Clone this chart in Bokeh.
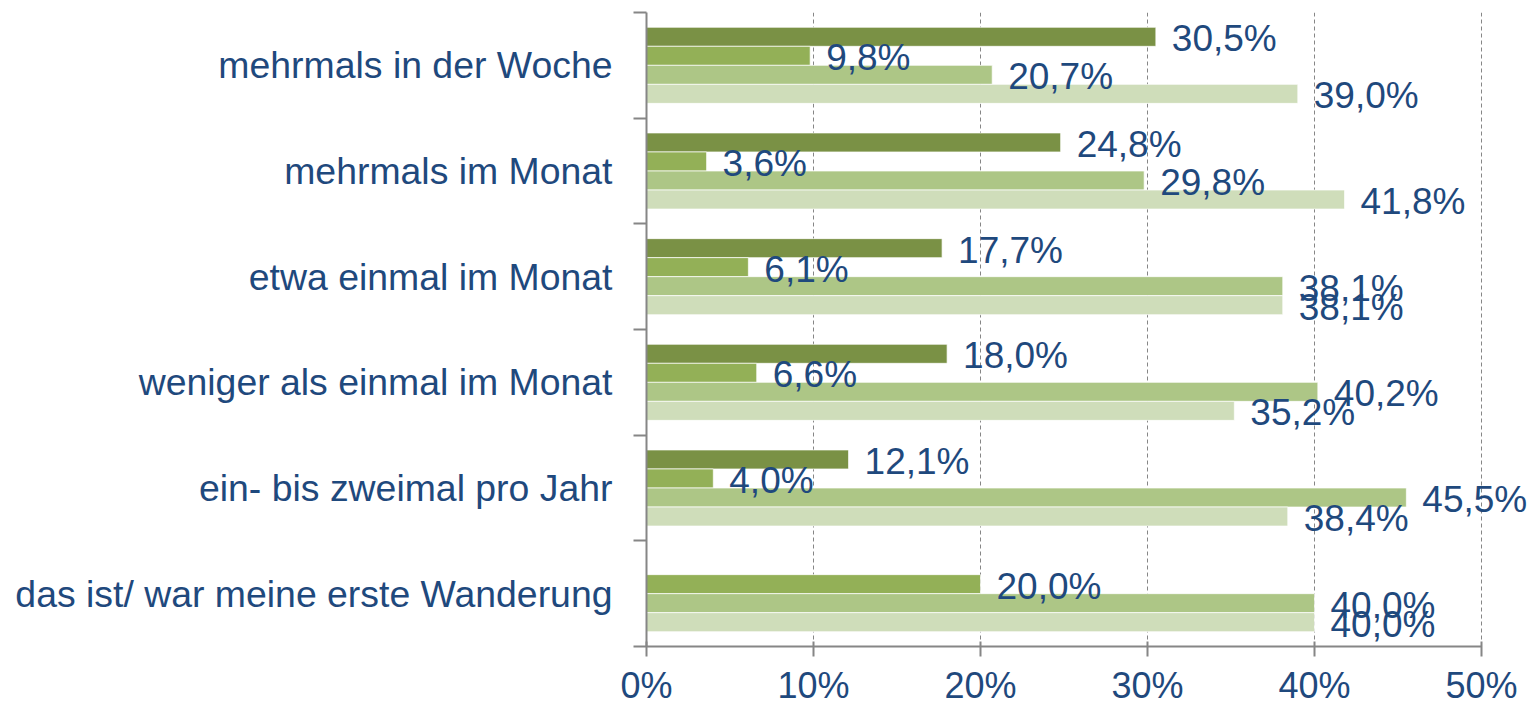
from bokeh.plotting import figure
from bokeh.models import ColumnDataSource, Range1d, FixedTicker, PrintfTickFormatter, LabelSet
from bokeh.transform import dodge
from bokeh.core.properties import value
from bokeh.embed import file_html
from bokeh.resources import INLINE

categories = [
    "mehrmals in der Woche",
    "mehrmals im Monat",
    "etwa einmal im Monat",
    "weniger als einmal im Monat",
    "ein- bis zweimal pro Jahr",
    "das ist/ war meine erste Wanderung",
]
series_1 = [30.5, 24.8, 17.7, 18.0, 12.1, 0.0]
series_2 = [9.8, 3.6, 6.1, 6.6, 4.0, 20.0]
series_3 = [20.7, 29.8, 38.1, 40.2, 45.5, 40.0]
series_4 = [39.0, 41.8, 38.1, 35.2, 38.4, 40.0]
x_ticks = [0, 10, 20, 30, 40, 50]

colors = ["#7A9145", "#93B057", "#ADC686", "#CFDDBA"]
text_color = "#1F497D"
grey = "#868686"
FONT = "Liberation Sans"

n = len(categories)
centers = [n - i - 0.5 for i in range(n)]
bar_h = 0.18

W, H = 1530, 708
left_px, top_px, axis_max = 646, 12, 50
px_per_unit = (1481 - left_px) / axis_max
x_end = (W - left_px) / px_per_unit

p = figure(
    width=W, height=H,
    x_range=Range1d(0, x_end), y_range=Range1d(0, n),
    output_backend="svg", toolbar_location=None,
    min_border_left=left_px, min_border_right=0, min_border_top=top_px, min_border_bottom=40,
)
p.outline_line_color = None
p.background_fill_color = "white"

all_series = [series_1, series_2, series_3, series_4]
for j, vals in enumerate(all_series):
    off = (1.5 - j) * bar_h
    labels = [("%.1f%%" % v).replace(".", ",") if v > 0 else "" for v in vals]
    src = ColumnDataSource(dict(yc=centers, val=vals, label=labels))
    p.hbar(y=dodge("yc", off), left=0, right="val", height=bar_h, source=src,
           fill_color=colors[j], line_color="white", line_width=1, line_alpha=0.7)
    ls = LabelSet(x="val", y=dodge("yc", off), text="label", source=src,
                  x_offset=16, y_offset=-2, text_baseline="middle", text_align="left",
                  text_font=value(FONT), text_font_size=value("37px"), text_color=text_color)
    p.add_layout(ls)

# grid
p.ygrid.visible = False
p.xgrid.ticker = FixedTicker(ticks=x_ticks)
p.xgrid.grid_line_color = grey
p.xgrid.grid_line_dash = "4 3"
p.xgrid.grid_line_width = 1

# x axis
xa = p.xaxis[0]
xa.ticker = FixedTicker(ticks=x_ticks)
xa.bounds = (0, axis_max)
xa.formatter = PrintfTickFormatter(format="%d%%")
xa.axis_line_color = grey
xa.axis_line_width = 2
xa.major_tick_line_color = grey
xa.major_tick_line_width = 2
xa.major_tick_out = 10
xa.major_tick_in = 5
xa.minor_tick_line_color = None
xa.major_label_standoff = 8
xa.major_label_text_font = FONT
xa.major_label_text_font_size = "36px"
xa.major_label_text_line_height = 1.0
xa.major_label_text_color = text_color

# y axis
ya = p.yaxis[0]
ya.ticker = FixedTicker(ticks=centers, minor_ticks=list(range(n + 1)))
ya.major_label_overrides = {c: cat for c, cat in zip(centers, categories)}
ya.axis_line_color = grey
ya.axis_line_width = 2
ya.major_tick_line_color = None
ya.major_tick_out = 0
ya.major_tick_in = 0
ya.minor_tick_line_color = grey
ya.minor_tick_line_width = 2
ya.minor_tick_out = 13
ya.minor_tick_in = 0
ya.major_label_standoff = 21
ya.major_label_text_font = FONT
ya.major_label_text_font_size = "37.4px"
ya.major_label_text_color = text_color

open("out.html", "w").write(file_html(p, INLINE))
